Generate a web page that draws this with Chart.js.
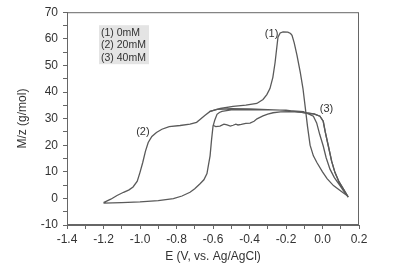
<!DOCTYPE html>
<html>
<head>
<meta charset="utf-8">
<script src="https://cdn.jsdelivr.net/npm/chart.js@4"></script>
<style>
html, body { margin: 0; padding: 0; background: #fff; }
</style>
</head>
<body>
<canvas id="myChart" width="395" height="278"></canvas>
<script>
// 系列ラベル
var seriesLabels = ['(1) 0mM', '(2) 20mM', '(3) 40mM'];
var curveTags = ['(1)', '(2)', '(3)'];

// (1) 0mM
var curve1E = [-0.62, -0.56, -0.49, -0.42, -0.36, -0.326, -0.305, -0.288, -0.272, -0.26, -0.25, -0.244, -0.232, -0.216, -0.19, -0.175, -0.167, -0.155, -0.14, -0.122, -0.107, -0.095, -0.082, -0.068, -0.05, -0.03, 0.0, 0.025, 0.06, 0.1, 0.134];
var curve1M = [32.6, 33.8, 34.6, 35.1, 35.7, 37.2, 39.0, 41.3, 45.5, 51.0, 57.0, 60.6, 62.2, 62.6, 62.5, 62.0, 61.3, 58.5, 53.9, 47.5, 41.3, 34.5, 27.0, 20.0, 16.0, 13.4, 10.0, 7.4, 4.8, 2.8, 1.1];

// (2) 20mM
var curve2E = [-1.2, -1.16, -1.126, -1.09, -1.06, -1.038, -1.015, -1.0, -0.985, -0.97, -0.955, -0.935, -0.91, -0.88, -0.84, -0.78, -0.726, -0.69, -0.671, -0.645, -0.616, -0.578,
  -0.5, -0.4, -0.3, -0.2, -0.105,
  -0.05, -0.032, -0.015, 0.004, 0.02, 0.041, 0.065, 0.096, 0.12, 0.141,
  0.114, 0.09, 0.068, 0.05, 0.032, 0.015, 0.004, -0.014, -0.045, -0.087,
  -0.2, -0.35, -0.5, -0.551, -0.565, -0.578, -0.59, -0.6, -0.608, -0.616, -0.625, -0.633, -0.65, -0.671, -0.7, -0.726, -0.77, -0.817, -0.9, -1.0, -1.1, -1.2];
var curve2M = [-1.6, -0.3, 1.1, 2.3, 3.2, 4.3, 6.5, 9.8, 13.5, 17.8, 21.0, 23.3, 24.8, 26.0, 27.0, 27.4, 27.9, 28.6, 29.7, 31.2, 32.7, 33.5,
  33.7, 33.6, 33.4, 33.1, 32.6,
  30.9, 28.4, 24.0, 19.7, 15.3, 11.0, 7.8, 4.8, 2.4, 0.5,
  3.6, 6.3, 9.8, 14.0, 19.7, 25.0, 29.0, 30.9, 31.8, 32.1,
  33.2, 33.4, 33.3, 32.7, 32.3, 31.6, 29.5, 27.1, 22.0, 16.0, 12.5, 9.3, 7.0, 5.5, 3.6, 2.3, 0.9, -0.1, -0.8, -1.3, -1.6, -1.8];

// (3) 40mM
var curve3E = [-0.6, -0.585, -0.562, -0.54, -0.523, -0.505, -0.49, -0.475, -0.463, -0.445, -0.42, -0.397, -0.375, -0.359, -0.326, -0.3, -0.271, -0.23, -0.18, -0.12, -0.087,
  -0.045, -0.014, 0.004, 0.015, 0.032, 0.05, 0.068, 0.09, 0.114, 0.141];
var curve3M = [27.5, 27.0, 27.2, 27.9, 27.6, 27.2, 27.5, 27.9, 27.6, 27.8, 28.2, 28.3, 29.0, 29.9, 31.0, 31.7, 32.2, 32.5, 32.6, 32.4, 32.1,
  31.7, 30.9, 29.0, 25.0, 19.7, 14.0, 9.8, 6.3, 3.6, 0.5];

function toPoints(xs, ys) {
    return xs.map(function (v, i) { return { x: v, y: ys[i] }; });
}

var lineColor = '#5a5a5a';
var fontFamily = "'Liberation Sans', Arial, sans-serif";

function lineSet(label, xs, ys) {
    return {
        label: label,
        data: toPoints(xs, ys),
        showLine: true,
        pointRadius: 0,
        borderColor: lineColor,
        backgroundColor: lineColor,
        borderWidth: 1.3,
        tension: 0
    };
}

// 枠・ラベル・凡例ボックス
var extras = {
    id: 'extras',
    afterDraw: function (chart) {
        var c = chart.ctx, a = chart.chartArea;
        var sx = chart.scales.x, sy = chart.scales.y;
        c.save();
        c.strokeStyle = '#666';
        c.lineWidth = 1;
        c.strokeRect(a.left + 0.5, a.top + 0.5, a.right - a.left - 1, a.bottom - a.top - 1);

        // 曲線のラベル
        c.fillStyle = '#333';
        c.font = '11px ' + fontFamily;
        c.textAlign = 'center';
        c.textBaseline = 'middle';
        c.fillText(curveTags[0], sx.getPixelForValue(-0.279), sy.getPixelForValue(61.7));
        c.fillText(curveTags[1], sx.getPixelForValue(-0.984), sy.getPixelForValue(24.9));
        c.fillText(curveTags[2], sx.getPixelForValue(0.022), sy.getPixelForValue(33.6));

        // 凡例
        var bx = a.left + 32, by = a.top + 13;
        c.fillStyle = '#e4e4e4';
        c.fillRect(bx, by, 50, 39);
        c.fillStyle = '#333';
        c.font = '10.5px ' + fontFamily;
        c.textAlign = 'left';
        c.textBaseline = 'alphabetic';
        for (var i = 0; i < seriesLabels.length; i++) {
            c.fillText(seriesLabels[i], bx + 2, by + 10.5 + i * 12.5);
        }
        c.restore();
    }
};

var ctx = document.getElementById('myChart');
var myChart = new Chart(ctx, {
    type: 'scatter',
    data: {
        datasets: [
            lineSet(seriesLabels[0], curve1E, curve1M),
            lineSet(seriesLabels[1], curve2E, curve2M),
            lineSet(seriesLabels[2], curve3E, curve3M)
        ]
    },
    options: {
        responsive: false,
        animation: false,
        layout: { padding: { left: 0, right: 36, top: 9, bottom: 0 } },
        plugins: {
            legend: { display: false },
            tooltip: { enabled: false },
            colors: { enabled: false }
        },
        scales: {
            x: {
                type: 'linear',
                min: -1.4,
                max: 0.2,
                ticks: {
                    stepSize: 0.1,
                    autoSkip: false,
                    maxRotation: 0,
                    padding: 3,
                    color: '#333',
                    font: { size: 12, family: fontFamily },
                    callback: function (v) {
                        var k = Math.round(v * 10);
                        return (k % 2 === 0) ? (k / 10).toFixed(1) : '';
                    }
                },
                grid: { drawOnChartArea: false, tickLength: 4, color: '#666' },
                border: { color: '#666' },
                title: {
                    display: true,
                    text: 'E (V, vs. Ag/AgCl)',
                    color: '#333',
                    font: { size: 12, family: fontFamily },
                    padding: { top: 0, bottom: 14 }
                },
                afterFit: function (s) { s.height = 53; }
            },
            y: {
                min: -10,
                max: 70,
                ticks: {
                    stepSize: 5,
                    autoSkip: false,
                    padding: 5,
                    color: '#333',
                    font: { size: 12, family: fontFamily },
                    callback: function (v) { return (v % 10 === 0) ? String(v) : ''; }
                },
                grid: { drawOnChartArea: false, tickLength: 4, color: '#666' },
                border: { color: '#666' },
                title: {
                    display: true,
                    text: 'M/z (g/mol)',
                    color: '#333',
                    font: { size: 12, family: fontFamily },
                    padding: { top: 15, bottom: 0 }
                },
                afterFit: function (s) { s.width = 67; }
            }
        }
    },
    plugins: [extras]
});
</script>
</body>
</html>
